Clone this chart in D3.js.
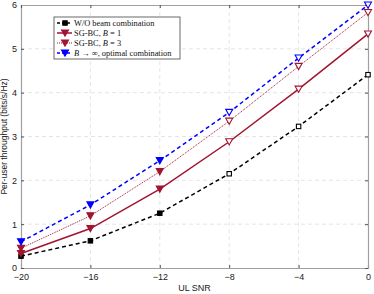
<!DOCTYPE html>
<html>
<head>
<meta charset="utf-8">
<script src="https://cdn.jsdelivr.net/npm/d3@7"></script>
<style>
  body { margin: 0; background: #fff; }
  svg { display: block; }
</style>
</head>
<body>
<div class="chart"></div>
<script>
// data
let snr = [-20, -16, -12, -8, -4, 0]
let woBeam = [0.27, 0.62, 1.25, 2.15, 3.23, 4.41]
let sgB1 = [0.33, 0.90, 1.80, 2.88, 4.08, 5.34]
let sgB3 = [0.45, 1.19, 2.20, 3.35, 4.60, 5.83]
let optimal = [0.60, 1.44, 2.45, 3.55, 4.79, 6.00]
let xTicks = [-20, -16, -12, -8, -4, 0]
let yTicks = [0, 1, 2, 3, 4, 5, 6]

let series = [
    { name: "W/O beam combination", values: woBeam, color: "#000000", dash: "4,3", width: 1.5, marker: "square" },
    { name: "SG-BC, B = 1", values: sgB1, color: "#a2142f", dash: null, width: 1.5, marker: "tri" },
    { name: "SG-BC, B = 3", values: sgB3, color: "#a2142f", dash: "1,1", width: 1, marker: "tri" },
    { name: "B → ∞, optimal combination", values: optimal, color: "#0000ff", dash: "4,3", width: 1.5, marker: "tri" }
]

let W = 374, H = 294
let margin = { left: 21, right: 6, top: 5, bottom: 26 }
let width = W - margin.left - margin.right
let height = H - margin.top - margin.bottom

let svg = d3.select('.chart')
    .append('svg')
    .attr('width', W)
    .attr('height', H)

let g = svg.append('g')
    .attr('transform', 'translate(' + margin.left + ',' + margin.top + ')')

//scales
let x = d3.scaleLinear().domain([-20, 0]).range([0, width])
let y = d3.scaleLinear().domain([0, 6]).range([height, 0])

//grid
g.append('g').selectAll('line').data(xTicks.slice(1, -1)).join('line')
    .attr('x1', d => x(d)).attr('x2', d => x(d))
    .attr('y1', 0).attr('y2', height)
    .attr('stroke', '#dedede').attr('stroke-width', 0.8).attr('stroke-dasharray', '4,3')
g.append('g').selectAll('line').data(yTicks.slice(1, -1)).join('line')
    .attr('x1', 0).attr('x2', width)
    .attr('y1', d => y(d)).attr('y2', d => y(d))
    .attr('stroke', '#dedede').attr('stroke-width', 0.8).attr('stroke-dasharray', '4,3')

//axes
let xAxis = d3.axisBottom(x).tickValues(xTicks).tickSize(-3).tickPadding(6).tickFormat(d3.format('d'))
let gx = g.append('g').attr('transform', 'translate(0,' + height + ')').call(xAxis)
let yAxis = d3.axisLeft(y).tickValues(yTicks).tickSize(-3).tickPadding(4).tickFormat(d3.format('d'))
let gy = g.append('g').call(yAxis)
let xTop = g.append('g').call(d3.axisTop(x).tickValues(xTicks).tickSize(-3).tickFormat(''))
let yRight = g.append('g').attr('transform', 'translate(' + width + ',0)')
    .call(d3.axisRight(y).tickValues(yTicks).tickSize(-3).tickFormat(''))

;[gx, gy, xTop, yRight].forEach(a => {
    a.select('.domain').attr('stroke', '#a0a0a0').attr('stroke-width', 1.2)
    a.selectAll('.tick line').attr('stroke', '#555')
    a.selectAll('text').attr('font-family', 'Liberation Sans, Arial, sans-serif')
        .attr('font-size', 9).attr('fill', '#222')
})

//labels
svg.append('text')
    .attr('x', margin.left + width / 2).attr('y', 291)
    .attr('text-anchor', 'middle')
    .attr('font-family', 'Liberation Sans, Arial, sans-serif').attr('font-size', 9).attr('fill', '#222')
    .text('UL SNR')
svg.append('text')
    .attr('transform', 'translate(7,' + (margin.top + height / 2) + ') rotate(-90)')
    .attr('text-anchor', 'middle')
    .attr('font-family', 'Liberation Sans, Arial, sans-serif').attr('font-size', 8.5).attr('fill', '#222')
    .text('Per-user throughput (bits/s/Hz)')

function drawMarker(sel, s, filled) {
    if (s.marker == 'square') {
        sel.append('rect').attr('x', -2.2).attr('y', -2.2).attr('width', 4.4).attr('height', 4.4)
            .attr('fill', filled ? s.color : '#fff').attr('stroke', s.color).attr('stroke-width', 1.1)
    } else {
        sel.append('path').attr('d', 'M-3.5,-3 L3.5,-3 L0,3.2 Z')
            .attr('fill', filled ? s.color : '#fff').attr('stroke', s.color).attr('stroke-width', 1.1)
    }
}

let line = d3.line().x(d => x(d[0])).y(d => y(d[1]))

series.forEach(s => {
    let pts = snr.map((v, i) => [v, s.values[i]])
    g.append('path')
        .attr('fill', 'none')
        .attr('stroke', s.color)
        .attr('stroke-width', s.width)
        .attr('stroke-dasharray', s.dash)
        .attr('d', line(pts))
    pts.forEach(p => {
        let m = g.append('g').attr('transform', 'translate(' + x(p[0]) + ',' + y(p[1]) + ')')
        drawMarker(m, s, p[0] <= -12)
    })
})

//legend
let lg = svg.append('g').attr('transform', 'translate(54,17)')
lg.append('rect').attr('width', 126).attr('height', 42)
    .attr('fill', '#fff').attr('stroke', '#444').attr('stroke-width', 0.8)
series.forEach((s, i) => {
    let ly = 6 + i * 10
    let row = lg.append('g').attr('transform', 'translate(0,' + ly + ')')
    row.append('line').attr('x1', 3).attr('x2', 18).attr('y1', 0).attr('y2', 0)
        .attr('stroke', s.color).attr('stroke-width', s.width).attr('stroke-dasharray', s.dash ? (s.dash == '1,1' ? '1,1' : '3,2') : null)
    drawMarker(row.append('g').attr('transform', 'translate(11,0)'), s, true)
    let t = row.append('text').attr('x', 20).attr('y', 3)
        .attr('font-family', 'Liberation Serif, Times New Roman, serif').attr('font-size', 8.4).attr('fill', '#111')
    if (i == 1 || i == 2) {
        t.append('tspan').text('SG-BC, ')
        t.append('tspan').attr('font-style', 'italic').text('B')
        t.append('tspan').text(i == 1 ? ' = 1' : ' = 3')
    } else if (i == 3) {
        t.append('tspan').attr('font-style', 'italic').text('B')
        t.append('tspan').text(' → ∞, optimal combination')
    } else {
        t.text(s.name)
    }
})
</script>
</body>
</html>
